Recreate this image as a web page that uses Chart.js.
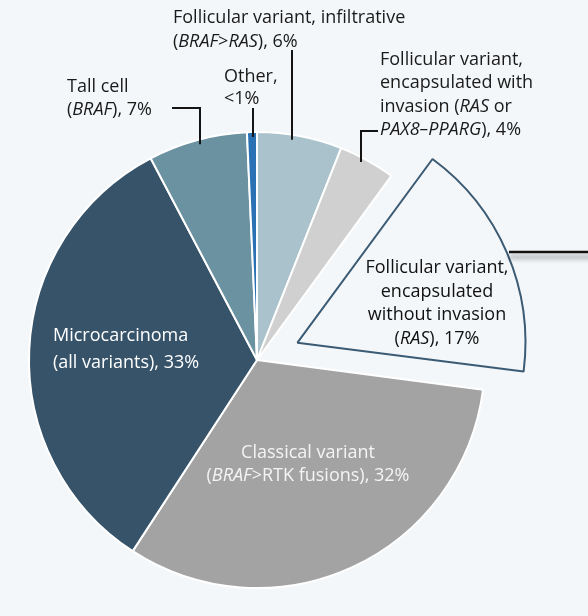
<!DOCTYPE html>
<html>
<head>
<meta charset="utf-8">
<title>Thyroid cancer subtypes</title>
<script src="https://cdn.jsdelivr.net/npm/chart.js"></script>
<style>
  body {
    margin: 0;
    padding: 0;
    background: #f4f7f9;
    overflow: hidden;
  }
  .wrap {
    position: relative;
    width: 588px;
    height: 616px;
  }
</style>
</head>
<body>
<div class="wrap">
  <canvas id="pie"></canvas>
</div>
<script>
// slices, clockwise from 12 o'clock
const subtypes = [
  "Follicular variant, infiltrative",
  "Follicular variant, encapsulated with invasion",
  "Follicular variant, encapsulated without invasion",
  "Classical variant",
  "Microcarcinoma",
  "Tall cell",
  "Other"
];
const shares = [6, 4, 17, 32, 33, 7, 0.7];
const sliceColors = ["#a9c2cb", "#d0d0d0", "#f4f7f9", "#a3a3a3", "#36536a", "#6b92a0", "#2a72b4"];
const sliceBorders = ["#ffffff", "#ffffff", "#3b5a73", "#ffffff", "#ffffff", "#ffffff", "#ffffff"];
const pulledOut = 2;   // index of the slice pulled away from the pie
const pullDist = 44;   // px

const FONT = '"Open Sans", sans-serif';
const SIZE = 18;

// label text: each line is a list of [text, italic] runs
const labels = [
  { x: 173, y: 23, align: "left", color: "#1a1a1a", lh: 24, lines: [
    [["Follicular variant, infiltrative", false]],
    [["(", false], ["BRAF", true], [">", false], ["RAS", true], ["), 6%", false]]
  ]},
  { x: 224, y: 82, align: "left", color: "#1a1a1a", lh: 22, lines: [
    [["Other,", false]],
    [["<1%", false]]
  ]},
  { x: 67, y: 92, align: "left", color: "#1a1a1a", lh: 23, lines: [
    [["Tall cell", false]],
    [["(", false], ["BRAF", true], ["), 7%", false]]
  ]},
  { x: 380, y: 65, align: "left", color: "#1a1a1a", lh: 23.3, lines: [
    [["Follicular variant,", false]],
    [["encapsulated with", false]],
    [["invasion (", false], ["RAS", true], [" or", false]],
    [["PAX8\u2013PPARG", true], ["), 4%", false]]
  ]},
  { x: 437, y: 273, align: "center", color: "#111111", lh: 23.5, lines: [
    [["Follicular variant,", false]],
    [["encapsulated", false]],
    [["without invasion", false]],
    [["(", false], ["RAS", true], ["), 17%", false]]
  ]},
  { x: 53, y: 341, align: "left", color: "#ffffff", lh: 27, lines: [
    [["Microcarcinoma", false]],
    [["(all variants), 33%", false]]
  ]},
  { x: 308, y: 458, align: "center", color: "#f4f4f4", lh: 23, lines: [
    [["Classical variant", false]],
    [["(", false], ["BRAF", true], [">RTK fusions), 32%", false]]
  ]}
];

// leader lines: label side points; the last point drops into the slice
const leaders = [
  [[292, 50], [292, null]],
  [[253, 108], [253, null]],
  [[172, 108], [200, 108], [200, null]],
  [[378, 131], [361, 131], [361, null]]
];

function runFont(italic) {
  return (italic ? "italic " : "") + SIZE + "px " + FONT;
}

function drawRich(ctx, runs, x, y, align) {
  let total = 0;
  runs.forEach(([t, it]) => { ctx.font = runFont(it); total += ctx.measureText(t).width; });
  let cx = align === "center" ? x - total / 2 : x;
  runs.forEach(([t, it]) => {
    ctx.font = runFont(it);
    ctx.fillText(t, cx, y);
    cx += ctx.measureText(t).width;
  });
}

const annotate = {
  id: "annotate",
  afterDatasetsUpdate(chart) {
    // keep the pulled slice at the same radius as the rest
    const arc = chart.getDatasetMeta(0).data[pulledOut];
    const fix = 1 - Math.sin(Math.min(Math.PI, arc.circumference));
    arc.outerRadius -= (pullDist * fix);
  },
  afterDatasetsDraw(chart) {
    const ctx = chart.ctx;
    const arc0 = chart.getDatasetMeta(0).data[0];
    const cx = arc0.x, cy = arc0.y, R = chart.getDatasetMeta(0).data[3].outerRadius;
    ctx.save();

    // leader lines
    ctx.strokeStyle = "#141414";
    ctx.lineWidth = 2;
    leaders.forEach(pts => {
      ctx.beginPath();
      pts.forEach(([px, py], i) => {
        if (py === null) py = cy - Math.sqrt(R * R - (px - cx) * (px - cx)) + 5;
        if (i === 0) ctx.moveTo(px, py); else ctx.lineTo(px, py);
      });
      ctx.stroke();
    });

    // connector running off to the right of the pulled slice
    ctx.save();
    ctx.shadowColor = "rgba(0,0,0,0.45)";
    ctx.shadowBlur = 5;
    ctx.shadowOffsetY = 5;
    ctx.lineWidth = 2.5;
    ctx.strokeStyle = "#111111";
    ctx.beginPath();
    ctx.moveTo(509, 252);
    ctx.lineTo(600, 252);
    ctx.stroke();
    ctx.restore();

    // text
    ctx.textBaseline = "alphabetic";
    labels.forEach(lb => {
      ctx.fillStyle = lb.color;
      lb.lines.forEach((runs, i) => {
        ctx.textAlign = "left";
        drawRich(ctx, runs, lb.x, lb.y + i * lb.lh, lb.align);
      });
    });
    ctx.restore();
  }
};

new Chart(document.getElementById("pie"), {
  type: "pie",
  data: {
    labels: subtypes,
    datasets: [{
      data: shares,
      backgroundColor: sliceColors,
      borderColor: sliceBorders,
      borderWidth: 2,
      offset: shares.map((v, i) => i === pulledOut ? pullDist * 4 : 0)
    }]
  },
  options: {
    responsive: true,
    maintainAspectRatio: false,
    animation: false,
    rotation: 0,
    radius: 228,
    layout: { padding: { left: 0, right: 74, top: 104, bottom: 0 } },
    plugins: {
      legend: { display: false },
      tooltip: { enabled: false }
    },
    events: []
  },
  plugins: [annotate]
});
</script>
</body>
</html>
